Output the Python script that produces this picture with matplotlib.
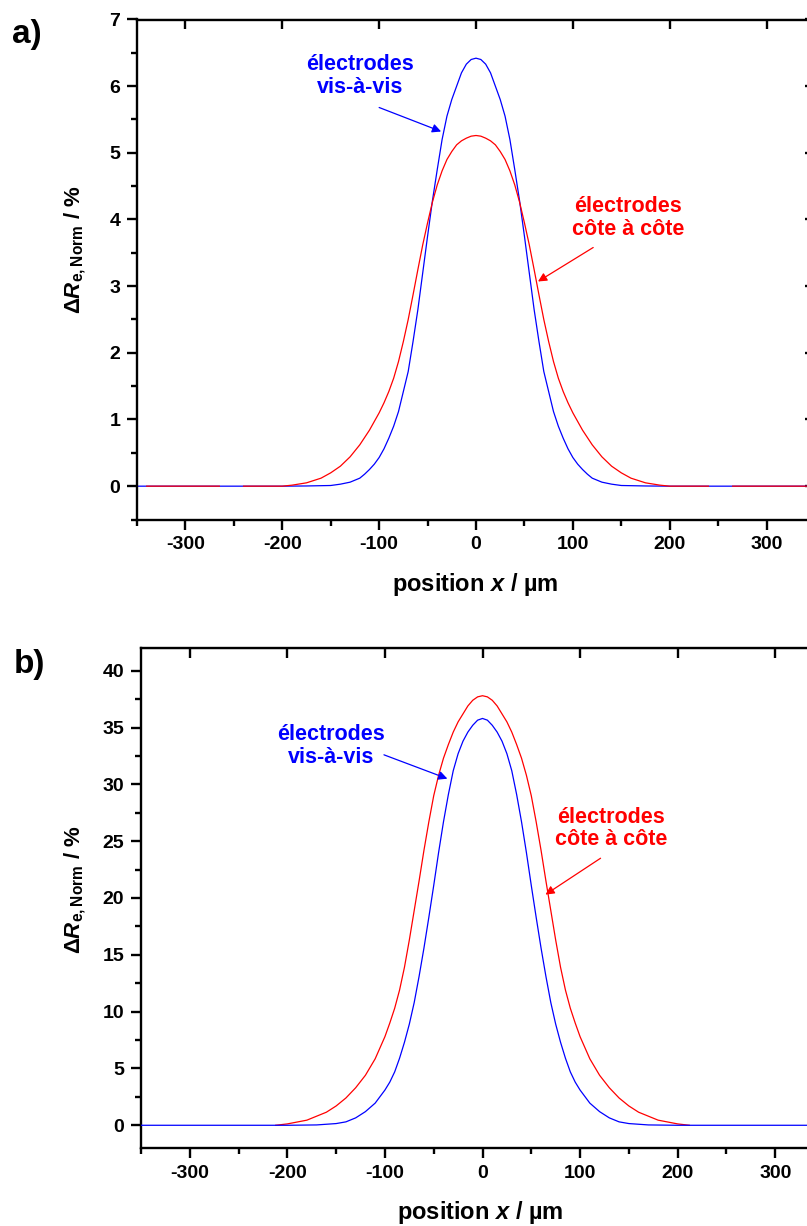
import numpy as np
import matplotlib
matplotlib.use("Agg")
import matplotlib.pyplot as plt
from matplotlib.ticker import MultipleLocator

plt.rcParams.update({
    "font.family": "Liberation Sans",
    "font.weight": "bold",
    "axes.unicode_minus": False,
    "mathtext.fontset": "custom",
    "mathtext.rm": "Liberation Sans",
    "mathtext.it": "Liberation Sans:italic:bold",
    "mathtext.bf": "Liberation Sans:bold",
})

# ---- data (position in um, dR in %) ----
nan = np.nan

# a) blue: electrodes vis-a-vis
xa_vis = [-350, -200, -175, -150, -140, -130, -120, -115, -110, -105, -100, -95, -90, -85,
          -80, -75, -70, -65, -60, -55, -50, -45, -40, -35, -30, -25, -20, -15, -10, -5,
          0, 5, 10, 15, 20, 25, 30, 35, 40, 45, 50, 55, 60, 65, 70, 75, 80, 85, 90, 95,
          100, 105, 110, 115, 120, 130, 140, 150, 175, 200, 350]
ya_vis = [0, 0, 0.003, 0.01, 0.03, 0.06, 0.12, 0.18, 0.25, 0.33, 0.43, 0.56, 0.72, 0.9,
          1.12, 1.42, 1.72, 2.17, 2.65, 3.2, 3.75, 4.28, 4.75, 5.2, 5.55, 5.8, 6.0, 6.2,
          6.33, 6.4, 6.42, 6.4, 6.33, 6.2, 6.0, 5.8, 5.55, 5.2, 4.75, 4.28, 3.75, 3.2,
          2.65, 2.17, 1.72, 1.42, 1.12, 0.9, 0.72, 0.56, 0.43, 0.33, 0.25, 0.18, 0.12,
          0.06, 0.03, 0.01, 0.003, 0, 0]

# a) red: electrodes cote a cote
xa_cote = [-340, -265, nan, -240, -200, -190, -175, -160, -150, -140, -130, -120, -110,
           -100, -95, -90, -85, -80, -75, -70, -65, -60, -55, -50, -45, -40, -35, -30, -25,
           -20, -15, -10, -5, 0, 5, 10, 15, 20, 25, 30, 35, 40, 45, 50, 55, 60, 65, 70,
           75, 80, 85, 90, 95, 100, 110, 120, 130, 140, 150, 160, 175, 190, 200, 240, nan,
           265, 350]
ya_cote = [0, 0, nan, 0, 0, 0.015, 0.05, 0.12, 0.2, 0.3, 0.44, 0.62, 0.84, 1.1, 1.25,
           1.42, 1.62, 1.87, 2.17, 2.5, 2.87, 3.25, 3.62, 3.95, 4.26, 4.52, 4.73, 4.9,
           5.02, 5.12, 5.18, 5.22, 5.25, 5.26, 5.25, 5.22, 5.18, 5.12, 5.02, 4.9, 4.73,
           4.52, 4.26, 3.95, 3.62, 3.25, 2.87, 2.5, 2.17, 1.87, 1.62, 1.42, 1.25, 1.1,
           0.84, 0.62, 0.44, 0.3, 0.2, 0.12, 0.05, 0.015, 0, 0, nan, 0, 0]

# b) blue: electrodes vis-a-vis
xb_vis = [-350, -200, -170, -150, -140, -130, -120, -110, -100, -95, -90, -85, -80, -75,
          -70, -65, -60, -55, -50, -45, -40, -35, -30, -25, -20, -15, -10, -5, 0, 5, 10,
          15, 20, 25, 30, 35, 40, 45, 50, 55, 60, 65, 70, 75, 80, 85, 90, 95, 100, 110,
          120, 130, 140, 150, 170, 200, 350]
yb_vis = [0, 0, 0.03, 0.15, 0.3, 0.65, 1.2, 1.95, 3.1, 3.8, 4.7, 5.9, 7.3, 8.9, 10.8,
          13.1, 15.6, 18.3, 21.1, 24.0, 26.7, 29.1, 31.2, 32.7, 33.8, 34.6, 35.2, 35.65,
          35.8, 35.65, 35.2, 34.6, 33.8, 32.7, 31.2, 29.1, 26.7, 24.0, 21.1, 18.3, 15.6,
          13.1, 10.8, 8.9, 7.3, 5.9, 4.7, 3.8, 3.1, 1.95, 1.2, 0.65, 0.3, 0.15, 0.03, 0, 0]

# b) red: electrodes cote a cote
xb_cote = [-212, -200, -180, -160, -150, -140, -130, -120, -110, -100, -95, -90, -85, -80,
           -75, -70, -65, -60, -55, -50, -45, -40, -35, -30, -25, -20, -15, -10, -5, 0, 5,
           10, 15, 20, 25, 30, 35, 40, 45, 50, 55, 60, 65, 70, 75, 80, 85, 90, 95, 100,
           110, 120, 130, 140, 150, 160, 180, 200, 212]
yb_cote = [0, 0.12, 0.45, 1.15, 1.7, 2.4, 3.3, 4.4, 5.85, 7.8, 9.0, 10.3, 11.9, 13.9, 16.3,
           18.9, 21.5, 24.2, 26.7, 29.0, 30.8, 32.3, 33.5, 34.6, 35.5, 36.2, 36.9, 37.4,
           37.7, 37.8, 37.7, 37.4, 36.9, 36.2, 35.5, 34.6, 33.5, 32.3, 30.8, 29.0, 26.7,
           24.2, 21.5, 18.9, 16.3, 13.9, 11.9, 10.3, 9.0, 7.8, 5.85, 4.4, 3.3, 2.4, 1.7,
           1.15, 0.45, 0.12, 0]

label_vis = "électrodes\nvis-à-vis"
label_cote = "électrodes\ncôte à côte"

fig = plt.figure(figsize=(8.07, 12.26), dpi=100)

ax_a = fig.add_axes([137 / 807, 1 - 519.5 / 1226, 678 / 807, 500 / 1226])
ax_b = fig.add_axes([141 / 807, 1 - 1148 / 1226, 683 / 807, 500 / 1226])


def style_axes(ax, ylim, ymajor, yminor):
    ax.set_xlim(-350, 350)
    ax.set_ylim(*ylim)
    ax.xaxis.set_major_locator(MultipleLocator(100))
    ax.xaxis.set_minor_locator(MultipleLocator(50))
    ax.yaxis.set_major_locator(MultipleLocator(ymajor))
    ax.yaxis.set_minor_locator(MultipleLocator(yminor))
    for sp in ax.spines.values():
        sp.set_linewidth(1.7)
    ax.tick_params(which="major", direction="out", length=7, width=1.7,
                   labelsize=14, pad=5)
    ax.tick_params(which="minor", direction="out", length=4, width=1.7)
    for lab in ax.get_xticklabels() + ax.get_yticklabels():
        lab.set_fontweight("bold")
    # inward major ticks on top and right
    top = ax.secondary_xaxis("top")
    top.xaxis.set_major_locator(MultipleLocator(100))
    top.tick_params(direction="in", length=7, width=1.7, labeltop=False)
    right = ax.secondary_yaxis("right")
    right.yaxis.set_major_locator(MultipleLocator(ymajor))
    right.tick_params(direction="in", length=7, width=1.7, labelright=False)


style_axes(ax_a, (-0.5, 7), 1, 0.5)
style_axes(ax_b, (-2, 42), 5, 2.5)

# curves
ax_a.plot(xa_vis, ya_vis, color="#0000ff", lw=0.9, zorder=2)
ax_a.plot(xa_cote, ya_cote, color="#ff0000", lw=0.9, zorder=3)
ax_b.plot(xb_cote, yb_cote, color="#ff0000", lw=0.9, zorder=2)
ax_b.plot(xb_vis, yb_vis, color="#0000ff", lw=0.9, zorder=3)

# annotations
arrow = dict(arrowstyle="-|>", lw=0.9, mutation_scale=13, shrinkA=0, shrinkB=0)
txt = dict(fontsize=15.5, fontweight="bold", ha="center", va="center", linespacing=1.1)

ax_a.text(-120, 6.15, label_vis, color="#0000ff", **txt)
ax_a.annotate("", xy=(-36, 5.32), xytext=(-100, 5.68),
              arrowprops=dict(arrow, color="#0000ff"))
ax_a.text(157, 4.02, label_cote, color="#ff0000", **txt)
ax_a.annotate("", xy=(64, 3.07), xytext=(121, 3.58),
              arrowprops=dict(arrow, color="#ff0000"))

ax_b.text(-155, 33.4, label_vis, color="#0000ff", **txt)
ax_b.annotate("", xy=(-36, 30.5), xytext=(-101, 32.6),
              arrowprops=dict(arrow, color="#0000ff"))
ax_b.text(132, 26.1, label_cote, color="#ff0000", **txt)
ax_b.annotate("", xy=(64.5, 20.3), xytext=(121, 23.5),
              arrowprops=dict(arrow, color="#ff0000"))

# axis labels and panel letters
xlab = r"position $\mathit{x}$ / µm"
ylab = r"$\Delta\mathit{R}_{\mathbf{e,Norm}}$ / %"

fig.text(475 / 807, 1 - 585 / 1226, xlab, fontsize=17, fontweight="bold",
         ha="center", va="center")
fig.text(480 / 807, 1 - 1213 / 1226, xlab, fontsize=17, fontweight="bold",
         ha="center", va="center")
fig.text(75 / 807, 1 - 250 / 1226, ylab, fontsize=16, fontweight="bold",
         ha="center", va="center", rotation=90)
fig.text(75 / 807, 1 - 890 / 1226, ylab, fontsize=16, fontweight="bold",
         ha="center", va="center", rotation=90)

fig.text(12 / 807, 1 - 35 / 1226, "a)", fontsize=24, fontweight="bold",
         ha="left", va="center")
fig.text(14 / 807, 1 - 665 / 1226, "b)", fontsize=24, fontweight="bold",
         ha="left", va="center")

fig.savefig("out.png", dpi=100)
